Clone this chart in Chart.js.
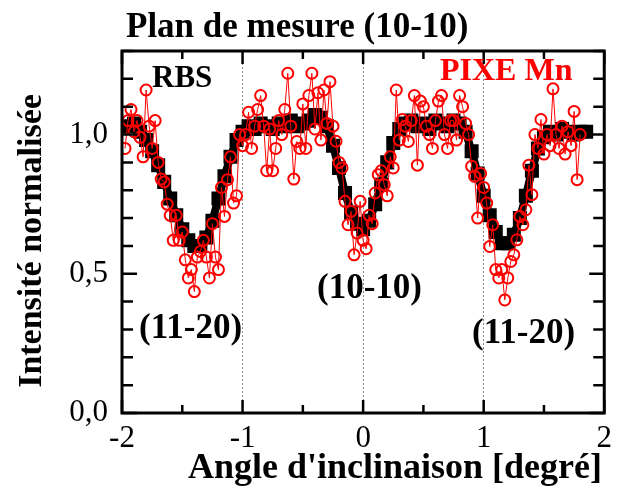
<!DOCTYPE html>
<html>
<head>
<meta charset="utf-8">
<script src="https://cdn.jsdelivr.net/npm/chart.js@4.4.1/dist/chart.umd.min.js"></script>
<style>
  html, body { margin: 0; padding: 0; background: #fff; }
  #wrap { width: 619px; height: 499px; }
</style>
</head>
<body>
<div id="wrap"><canvas id="graph-viewer" width="619" height="499"></canvas></div>
<script>
// RBS (black squares)
const angleRBS = [
  -1.95, -1.9, -1.85, -1.8, -1.75, -1.7, -1.65, -1.6, -1.55, -1.5, -1.45, -1.4, -1.35, -1.3, -1.25, -1.2, -1.15, -1.1, -1.05, -1.0,
  -0.95, -0.9, -0.85, -0.8, -0.75, -0.7, -0.65, -0.6, -0.55, -0.5, -0.45, -0.4, -0.35, -0.3, -0.25, -0.2, -0.15, -0.1, -0.05, 0.0,
  0.05, 0.1, 0.15, 0.2, 0.25, 0.3, 0.35, 0.4, 0.45, 0.5, 0.55, 0.6, 0.65, 0.7, 0.75, 0.8, 0.85, 0.9, 0.95, 1.0,
  1.05, 1.1, 1.15, 1.2, 1.25, 1.3, 1.35, 1.4, 1.45, 1.5, 1.55, 1.6, 1.65, 1.7, 1.75, 1.8, 1.85
];
const rbs = [
  1.03, 1.04, 1.01, 0.98, 0.94, 0.89, 0.83, 0.77, 0.71, 0.66, 0.62, 0.60, 0.60, 0.63, 0.69, 0.77, 0.85, 0.92, 0.98, 1.01,
  1.03, 1.02, 1.04, 1.03, 1.02, 1.04, 1.03, 1.05, 1.03, 1.04, 1.05, 1.07, 1.06, 1.03, 0.96, 0.88, 0.79, 0.72, 0.68, 0.66,
  0.69, 0.75, 0.82, 0.90, 0.97, 1.02, 1.04, 1.05, 1.03, 1.04, 1.02, 1.05, 1.04, 1.03, 1.05, 1.04, 1.01, 0.94, 0.86, 0.78,
  0.71, 0.65, 0.61, 0.61, 0.64, 0.70, 0.78, 0.87, 0.95, 0.99, 1.01, 1.00, 1.02, 1.01, 1.00, 1.01, 1.01
];

// PIXE Mn (red circles)
const anglePIXE = [
  -1.975, -1.95, -1.925, -1.9, -1.875, -1.85, -1.825, -1.8,
  -1.775, -1.75, -1.725, -1.7, -1.675, -1.65, -1.625, -1.6,
  -1.575, -1.55, -1.525, -1.5, -1.475, -1.45, -1.425, -1.4,
  -1.375, -1.35, -1.325, -1.3, -1.275, -1.25, -1.225, -1.2,
  -1.175, -1.15, -1.125, -1.1, -1.075, -1.05, -1.025, -1.0,
  -0.975, -0.95, -0.925, -0.9, -0.875, -0.85, -0.825, -0.8,
  -0.775, -0.75, -0.725, -0.7, -0.675, -0.65, -0.625, -0.6,
  -0.575, -0.55, -0.525, -0.5, -0.475, -0.45, -0.425, -0.4,
  -0.375, -0.35, -0.325, -0.3, -0.275, -0.25, -0.225, -0.2,
  -0.175, -0.15, -0.125, -0.1, -0.075, -0.05, -0.025, 0.0,
  0.025, 0.05, 0.075, 0.1, 0.125, 0.15, 0.175, 0.2,
  0.225, 0.25, 0.275, 0.3, 0.325, 0.35, 0.375, 0.4,
  0.425, 0.45, 0.475, 0.5, 0.525, 0.55, 0.575, 0.6,
  0.625, 0.65, 0.675, 0.7, 0.725, 0.75, 0.775, 0.8,
  0.825, 0.85, 0.875, 0.9, 0.925, 0.95, 0.975, 1.0,
  1.025, 1.05, 1.075, 1.1, 1.125, 1.15, 1.175, 1.2,
  1.225, 1.25, 1.275, 1.3, 1.325, 1.35, 1.375, 1.4,
  1.425, 1.45, 1.475, 1.5, 1.525, 1.55, 1.575, 1.6,
  1.625, 1.65, 1.675, 1.7, 1.725, 1.75, 1.775, 1.8
];
const pixeMn = [
  0.95, 1.05, 1.09, 1.01, 1.05, 0.99, 0.92, 1.16,
  1.03, 0.95, 1.05, 0.90, 0.84, 0.83, 0.75, 0.71,
  0.62, 0.71, 0.62, 0.65, 0.55, 0.485, 0.515, 0.436,
  0.56, 0.58, 0.62, 0.56, 0.485, 0.68, 0.56, 0.515,
  0.81, 0.706, 0.838, 0.92, 0.754, 0.78, 1.0, 0.96,
  1.0, 1.08, 0.95, 1.03, 1.09, 1.14, 1.03, 0.87,
  1.02, 0.87, 0.95, 1.05, 1.0, 1.09, 1.22, 1.03,
  0.84, 0.975, 0.95, 1.11, 0.95, 1.14, 1.22, 1.02,
  1.15, 0.98, 1.16, 1.04, 1.19, 1.03, 0.976, 0.90,
  0.88, 0.76, 0.676, 0.724, 0.568, 0.646, 0.76, 0.62,
  0.59, 0.71, 0.68, 0.79, 0.856, 0.87, 0.82, 0.78,
  0.92, 0.88, 1.16, 0.98, 1.054, 1.03, 0.975, 1.05,
  1.14, 0.89, 1.12, 1.10, 1.03, 1.0, 0.95, 1.05,
  1.12, 1.14, 1.0, 0.95, 1.05, 1.05, 0.98, 1.14,
  1.10, 1.04, 1.0, 0.886, 0.85, 0.70, 0.86, 0.81,
  0.754, 0.598, 0.676, 0.515, 0.485, 0.515, 0.406, 0.485,
  0.544, 0.568, 0.622, 0.706, 0.676, 0.73, 0.89, 0.784,
  1.0, 0.95, 1.054, 0.93, 1.0, 0.96, 1.164, 1.0,
  0.95, 1.03, 0.93, 1.01, 0.96, 1.083, 0.838, 1.0
];

const xTickValues = [-2, -1, 0, 1, 2];
const xTickLabels = ['-2', '-1', '0', '1', '2'];
const yTickValues = [0, 0.5, 1.0];
const yTickLabels = ['0,0', '0,5', '1,0'];
const dottedAt = [-1, 0, 1];

const SERIF = "'Liberation Serif', 'Times New Roman', serif";

function toPoints(xs, ys) {
    return xs.map((x, i) => ({ x: x, y: ys[i] }));
}

// frame, inside ticks, titles and labels
const decorations = {
    id: 'decorations',
    afterDraw(chart) {
        const ctx = chart.ctx;
        const a = chart.chartArea;
        const sx = chart.scales.x;
        const sy = chart.scales.y;
        ctx.save();
        ctx.strokeStyle = '#000';
        ctx.lineWidth = 2.5;
        ctx.beginPath();
        for (let i = 0; i <= 8; i++) {
            const v = -2 + i * 0.5;
            const px = sx.getPixelForValue(v);
            const len = (i % 2 === 0) ? 13 : 8;
            ctx.moveTo(px, a.bottom); ctx.lineTo(px, a.bottom - len);
            ctx.moveTo(px, a.top); ctx.lineTo(px, a.top + len);
        }
        for (let i = 0; i <= 13; i++) {
            const v = i / 10;
            const py = sy.getPixelForValue(v);
            const len = (i % 5 === 0) ? 15 : 11;
            ctx.moveTo(a.left, py); ctx.lineTo(a.left + len, py);
            ctx.moveTo(a.right, py); ctx.lineTo(a.right - len, py);
        }
        ctx.stroke();
        ctx.lineWidth = 3;
        ctx.strokeRect(a.left, a.top, a.right - a.left, a.bottom - a.top);

        ctx.fillStyle = '#000';
        ctx.textBaseline = 'alphabetic';
        ctx.textAlign = 'left';
        ctx.font = 'bold 35px ' + SERIF;
        ctx.fillText('Plan de mesure (10-10)', 126, 37);

        ctx.font = 'bold 36px ' + SERIF;
        ctx.fillText("Angle d'inclinaison [degré]", 188, 478);

        ctx.save();
        ctx.translate(41, 241);
        ctx.rotate(-Math.PI / 2);
        ctx.textAlign = 'center';
        ctx.font = 'bold 34px ' + SERIF;
        ctx.fillText('Intensité normalisée', 0, 0);
        ctx.restore();

        ctx.font = 'bold 31px ' + SERIF;
        ctx.fillText('RBS', 152, 87);
        ctx.font = 'bold 35px ' + SERIF;
        ctx.fillText('(11-20)', 139, 338);
        ctx.fillText('(10-10)', 317, 298);
        ctx.fillText('(11-20)', 472, 343);
        ctx.fillStyle = '#ff0000';
        ctx.font = 'bold 32px ' + SERIF;
        ctx.fillText('PIXE Mn', 440, 80);
        ctx.restore();
    }
};

document.addEventListener('DOMContentLoaded', function() {
    const ctx = document.getElementById('graph-viewer').getContext('2d');
    new Chart(ctx, {
        type: 'line',
        data: {
            datasets: [
                {
                    label: 'PIXE Mn',
                    data: toPoints(anglePIXE, pixeMn),
                    borderColor: '#ff0000',
                    backgroundColor: 'rgba(0,0,0,0)',
                    borderWidth: 1,
                    pointStyle: 'circle',
                    pointRadius: 5.5,
                    pointBorderWidth: 2,
                    pointBorderColor: '#ff0000',
                    pointBackgroundColor: 'rgba(0,0,0,0)',
                    order: 0
                },
                {
                    label: 'RBS',
                    data: toPoints(angleRBS, rbs),
                    borderColor: '#000',
                    backgroundColor: '#000',
                    borderWidth: 8,
                    pointStyle: 'rect',
                    pointRadius: 8.5,
                    pointBorderWidth: 2,
                    pointBorderColor: '#000',
                    pointBackgroundColor: '#000',
                    order: 1
                }
            ]
        },
        options: {
            responsive: false,
            animation: false,
            layout: { padding: { top: 51, right: 7, left: 0, bottom: 0 } },
            plugins: {
                legend: { display: false },
                title: { display: false },
                tooltip: { enabled: false }
            },
            scales: {
                x: {
                    type: 'linear',
                    min: -2,
                    max: 2,
                    afterBuildTicks: (s) => { s.ticks = xTickValues.map(v => ({ value: v })); },
                    afterFit: (s) => { s.height = 86; },
                    border: { display: false, dash: [2, 2] },
                    grid: {
                        drawTicks: false,
                        lineWidth: 1,
                        color: (c) => dottedAt.includes(c.tick && c.tick.value) ? '#888' : 'rgba(0,0,0,0)'
                    },
                    ticks: {
                        padding: 7,
                        color: '#000',
                        font: { family: SERIF, size: 31 },
                        callback: (v, i) => xTickLabels[i]
                    }
                },
                y: {
                    min: 0,
                    max: 1.3,
                    afterBuildTicks: (s) => { s.ticks = yTickValues.map(v => ({ value: v })); },
                    afterFit: (s) => { s.width = 122; },
                    border: { display: false },
                    grid: { display: false, drawTicks: false },
                    ticks: {
                        padding: 14,
                        color: '#000',
                        font: { family: SERIF, size: 31 },
                        callback: (v, i) => yTickLabels[i]
                    }
                }
            }
        },
        plugins: [decorations]
    });
});
</script>
</body>
</html>
